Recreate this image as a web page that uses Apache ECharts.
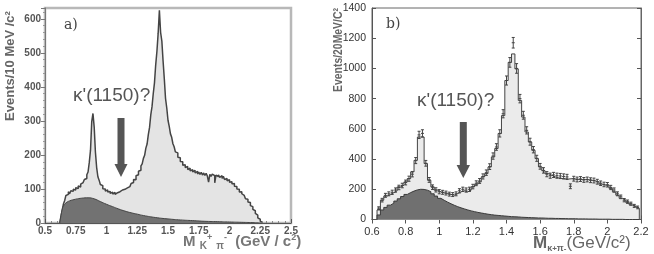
<!DOCTYPE html>
<html><head><meta charset="utf-8">
<script src="https://cdn.jsdelivr.net/npm/echarts@6/dist/echarts.min.js"></script>
<style>html,body{margin:0;padding:0;background:#fff}#c{width:654px;height:254px}</style>
</head><body><div id="c"></div><script>
// ---- Panel a) : 10 MeV bins ----
const binStartA = 0.62, binWidthA = 0.01;
const valsA = [
  4, 20, 38, 56, 66, 81, 84, 92, 86, 95,
  93, 99, 97, 104, 101, 109, 106, 114, 119, 120,
  128, 131, 142, 150, 178, 214, 298, 322, 282, 208,
  163, 136, 126, 113, 110, 101, 100, 94, 97, 91,
  93, 87, 91, 85, 90, 84, 89, 86, 92, 88,
  97, 92, 99, 95, 103, 98, 107, 104, 116, 119,
  128, 127, 139, 142, 152, 155, 168, 174, 190, 199,
  220, 232, 260, 281, 318, 342, 380, 412, 465, 505,
  558, 625, 560, 535, 476, 424, 366, 338, 302, 284,
  262, 252, 233, 224, 209, 206, 193, 192, 181, 180,
  170, 171, 163, 166, 157, 161, 153, 157, 150, 155,
  147, 152, 144, 150, 143, 149, 141, 147, 140, 146,
  138, 120, 143, 137, 144, 139, 118, 141, 136, 142,
  134, 139, 131, 137, 128, 131, 124, 127, 120, 121,
  115, 116, 108, 107, 100, 99, 91, 92, 86, 81,
  78, 71, 70, 62, 60, 51, 48, 40, 36, 28,
  23, 15, 11, 5, 2
];
const bgAx = [0.62,0.63,0.64,0.65,0.67,0.70,0.75,0.80,0.85,0.90,0.95,1.00,1.05,1.10,1.15,1.20,1.25,1.30,1.40,1.50,1.60,1.70,1.80,1.90,2.00,2.10,2.20,2.26];
const bgAy = [0,22,40,50,59,65,70,73,74,71,63,55,48,41,35,30,26,22,16,12,9,7,5,4,3,2,1,0];
const yTicksA = [0,100,200,300,400,500,600];

// ---- Panel b) : 20 MeV bins ----
const binStartB = 0.63, binWidthB = 0.02;
const histB = [
  63, 128, 155, 166, 177, 190, 216, 227, 249, 271,
  315, 392, 546, 546, 370, 260, 216, 194, 183, 177,
  172, 166, 161, 172, 183, 190, 183, 194, 216, 233,
  249, 282, 304, 348, 414, 470, 569, 688, 920, 1040,
  1096, 997, 788, 678, 579, 513, 458, 403, 348, 322,
  304, 293, 282, 276, 272, 270, 268, 270, 268, 266,
  265, 265, 263, 260, 255, 249, 234, 227, 227, 206,
  183, 161, 140, 128, 111, 96, 85, 74
];
const ptsB = [
  75, 128, 160, 170, 180, 195, 212, 225, 245, 270,
  300, 390, 560, 570, 372, 262, 214, 196, 184, 180,
  175, 168, 165, 170, 190, 200, 195, 200, 218, 240,
  255, 285, 310, 350, 420, 480, 570, 700, 920, 1040,
  1170, 1000, 800, 690, 590, 515, 462, 405, 352, 325,
  300, 290, 295, 290, 288, 285, 282, 220, 270, 265,
  268, 262, 265, 260, 258, 250, 240, 232, 230, 212,
  195, 170, 150, 128, 118, 105, 90, 80
];
const errB = [
  9, 12, 13, 13, 14, 14, 15, 15, 16, 17,
  18, 20, 24, 24, 19, 16, 15, 14, 14, 13,
  13, 13, 13, 13, 14, 14, 14, 14, 15, 16,
  16, 17, 18, 19, 21, 22, 24, 27, 30, 32,
  35, 32, 28, 26, 24, 23, 21, 20, 19, 18,
  17, 17, 17, 17, 17, 17, 17, 16, 16, 16,
  16, 16, 16, 16, 16, 16, 15, 15, 15, 14,
  14, 13, 12, 11, 11, 10, 10, 9
];
const bgB = [
  30, 63, 80, 95, 108, 122, 137, 152, 166, 178,
  188, 196, 200, 199, 194, 184, 170, 155, 140, 127,
  115, 104, 94, 85, 77, 70, 63, 57, 52, 47,
  43, 39, 35, 32, 29, 27, 25, 23, 21, 19,
  18, 17, 15, 14, 13, 12, 11, 10, 10, 9,
  8, 8, 7, 7, 6, 6, 5, 5, 5, 4,
  4, 4, 3, 3, 3, 2, 2, 2, 2, 1,
  1, 1, 1, 0, 0, 0, 0, 0
];

const FONT = '"Liberation Sans", Arial, sans-serif';
const plain = v => String(+v.toFixed(4));

function stepData(start, w, vals) {
  const d = [[start, 0]];
  vals.forEach((v, i) => d.push([+(start + i * w).toFixed(4), v]));
  const end = +(start + vals.length * w).toFixed(4);
  d.push([end, vals[vals.length - 1]]);
  d.push([end, 0]);
  return d;
}

const chart = echarts.init(document.getElementById('c'), null, {renderer: 'canvas'});

const option = {
  animation: false,
  backgroundColor: '#fff',
  grid: [
    {left: 45, top: 8, width: 246, height: 215, show: true, borderColor: '#b8b8b8', borderWidth: 2.5, outerBoundsMode: 'none', containLabel: false},
    {left: 372, top: 8, width: 269, height: 211.5, show: true, borderColor: '#666', borderWidth: 1, outerBoundsMode: 'none', containLabel: false}
  ],
  xAxis: [
    {gridIndex: 0, type: 'value', min: 0.5, max: 2.5, interval: 0.25,
     axisLine: {show: true, lineStyle: {color: '#555', width: 1}},
     axisTick: {show: true, inside: true, length: 4, lineStyle: {color: '#555'}},
     minorTick: {show: true, splitNumber: 5, length: 2, lineStyle: {color: '#888'}},
     splitLine: {show: false},
     axisLabel: {fontFamily: FONT, fontWeight: 'bold', fontSize: 10, color: '#555', margin: 3, formatter: plain}},
    {gridIndex: 1, type: 'value', min: 0.6, max: 2.2, interval: 0.2,
     axisLine: {show: true, lineStyle: {color: '#555'}},
     axisTick: {show: true, inside: true, length: 4, lineStyle: {color: '#555'}},
     splitLine: {show: false},
     axisLabel: {fontFamily: FONT, fontSize: 11, color: '#333', margin: 7, formatter: plain}},
    {gridIndex: 1, type: 'value', position: 'top', min: 0.6, max: 2.2, interval: 0.2,
     axisLine: {show: true, lineStyle: {color: '#666'}},
     axisTick: {show: true, inside: true, length: 4, lineStyle: {color: '#555'}},
     splitLine: {show: false}, axisLabel: {show: false}}
  ],
  yAxis: [
    {gridIndex: 0, type: 'value', min: 0, max: 632, interval: 100,
     axisLine: {show: true, lineStyle: {color: '#777'}},
     axisTick: {show: true, length: 4, lineStyle: {color: '#777'}},
     minorTick: {show: true, splitNumber: 5, length: 2, lineStyle: {color: '#999'}},
     splitLine: {show: false},
     axisLabel: {fontFamily: FONT, fontWeight: 'bold', fontSize: 10, color: '#555', margin: 4,
       formatter: v => yTicksA.indexOf(v) >= 0 ? String(v) : ''}},
    {gridIndex: 1, type: 'value', min: 0, max: 1400, interval: 200,
     axisLine: {show: true, lineStyle: {color: '#555'}},
     axisTick: {show: true, inside: true, length: 4, lineStyle: {color: '#555'}},
     splitLine: {show: false},
     axisLabel: {fontFamily: FONT, fontSize: 10.5, color: '#333', margin: 6, formatter: plain}},
    {gridIndex: 1, type: 'value', position: 'right', min: 0, max: 1400, interval: 200,
     axisLine: {show: true, lineStyle: {color: '#666'}},
     axisTick: {show: true, inside: true, length: 4, lineStyle: {color: '#555'}},
     splitLine: {show: false}, axisLabel: {show: false}}
  ],
  series: [
    {type: 'line', xAxisIndex: 0, yAxisIndex: 0, step: 'end', symbol: 'none', silent: true,
     data: stepData(binStartA, binWidthA, valsA),
     lineStyle: {color: '#444', width: 1.5}, areaStyle: {color: '#e4e4e4', opacity: 1}, z: 2},
    {type: 'line', xAxisIndex: 0, yAxisIndex: 0, smooth: true, symbol: 'none', silent: true,
     data: bgAx.map((x, i) => [x, bgAy[i]]),
     lineStyle: {color: '#444', width: 1}, areaStyle: {color: '#727272', opacity: 1}, z: 3},
    {type: 'line', xAxisIndex: 1, yAxisIndex: 1, step: 'end', symbol: 'none', silent: true,
     data: stepData(binStartB, binWidthB, histB),
     lineStyle: {color: '#444', width: 1}, areaStyle: {color: '#ebebeb', opacity: 1}, z: 2},
    {type: 'line', xAxisIndex: 1, yAxisIndex: 1, step: 'end', symbol: 'none', silent: true,
     data: stepData(binStartB, binWidthB, bgB),
     lineStyle: {color: '#3a3a3a', width: 1}, areaStyle: {color: '#707070', opacity: 1}, z: 3},
    {type: 'custom', xAxisIndex: 1, yAxisIndex: 1, silent: true, z: 4,
     data: ptsB.map((v, i) => [+(binStartB + (i + 0.5) * binWidthB).toFixed(4), v, errB[i]]),
     encode: {x: 0, y: 1},
     renderItem: function (params, api) {
       const x = api.value(0), v = api.value(1), e = api.value(2);
       const t = api.coord([x, v + e]), b = api.coord([x, v - e]), m = api.coord([x, v]);
       const st = {stroke: '#444', lineWidth: 1};
       return {type: 'group', children: [
         {type: 'line', shape: {x1: t[0], y1: t[1], x2: b[0], y2: b[1]}, style: st},
         {type: 'line', shape: {x1: t[0] - 1.5, y1: t[1], x2: t[0] + 1.5, y2: t[1]}, style: st},
         {type: 'line', shape: {x1: b[0] - 1.5, y1: b[1], x2: b[0] + 1.5, y2: b[1]}, style: st},
         {type: 'line', shape: {x1: m[0] - 1.5, y1: m[1], x2: m[0] + 1.5, y2: m[1]}, style: st}
       ]};
     }}
  ],
  graphic: [
    {type: 'text', x: 64, y: 25, style: {text: 'a)', fontFamily: '"DejaVu Serif", serif', fontSize: 14, fill: '#444', verticalAlign: 'middle'}},
    {type: 'text', x: 386, y: 24, style: {text: 'b)', fontFamily: '"DejaVu Serif", serif', fontSize: 14, fill: '#444', verticalAlign: 'middle'}},
    {type: 'text', x: 73, y: 96, style: {text: "κ'(1150)?", fontFamily: FONT, fontSize: 19, fill: '#555', verticalAlign: 'middle'}},
    {type: 'text', x: 417, y: 101, style: {text: "κ'(1150)?", fontFamily: FONT, fontSize: 19, fill: '#555', verticalAlign: 'middle'}},
    {type: 'polygon', shape: {points: [[117.5,118],[124.5,118],[124.5,164],[127.5,164],[121,177],[114.5,164],[117.5,164]]}, style: {fill: '#555'}},
    {type: 'polygon', shape: {points: [[459.8,122],[466.8,122],[466.8,165],[470,165],[463.3,178],[456.6,165],[459.8,165]]}, style: {fill: '#555'}},
    {type: 'text', x: 10, y: 66, rotation: Math.PI / 2,
     style: {text: 'Events/10 MeV /c²', fontFamily: FONT, fontWeight: 'bold', fontSize: 13, fill: '#666', align: 'center', verticalAlign: 'middle'}},
    {type: 'text', x: 338, y: 50, rotation: Math.PI / 2, scaleX: 0.8,
     style: {text: 'Events/20MeV/C²', fontFamily: FONT, fontWeight: 'bold', fontSize: 13, fill: '#666', align: 'center', verticalAlign: 'middle'}},
    {type: 'text', x: 183, y: 242,
     style: {text: '{m|M} {k|K}{p|+} {k|π}{p|-}  {t|(GeV / c}{s|2}{t|)}',
       fontFamily: FONT, fontWeight: 'bold', fontSize: 15, fill: '#777', verticalAlign: 'middle',
       rich: {
         m: {fontFamily: FONT, fontWeight: 'bold', fontSize: 15, fill: '#777', lineHeight: 18, verticalAlign: 'middle'},
         k: {fontFamily: FONT, fontWeight: 'bold', fontSize: 10, fill: '#777', lineHeight: 10, verticalAlign: 'bottom'},
         p: {fontFamily: FONT, fontWeight: 'bold', fontSize: 9, fill: '#777', lineHeight: 9, verticalAlign: 'top'},
         t: {fontFamily: FONT, fontWeight: 'bold', fontSize: 15, fill: '#777', lineHeight: 18, verticalAlign: 'middle'},
         s: {fontFamily: FONT, fontWeight: 'bold', fontSize: 9, fill: '#777', lineHeight: 9, verticalAlign: 'top'}
       }}},
    {type: 'text', x: 533, y: 243,
     style: {text: '{m|M}{k|κ}{p|+}{k|π}{p|-}{t|(GeV/c²)}',
       fontFamily: FONT, fontSize: 16, fill: '#666', verticalAlign: 'middle',
       rich: {
         m: {fontFamily: FONT, fontWeight: 'bold', fontSize: 17, fill: '#666', lineHeight: 20, verticalAlign: 'middle'},
         k: {fontFamily: FONT, fontWeight: 'bold', fontSize: 9, fill: '#666', lineHeight: 12, verticalAlign: 'bottom'},
         p: {fontFamily: FONT, fontWeight: 'bold', fontSize: 8, fill: '#666', lineHeight: 14, verticalAlign: 'bottom'},
         t: {fontFamily: FONT, fontSize: 17, fill: '#666', lineHeight: 20, verticalAlign: 'middle'}
       }}}
  ]
};
chart.setOption(option);
</script></body></html>
